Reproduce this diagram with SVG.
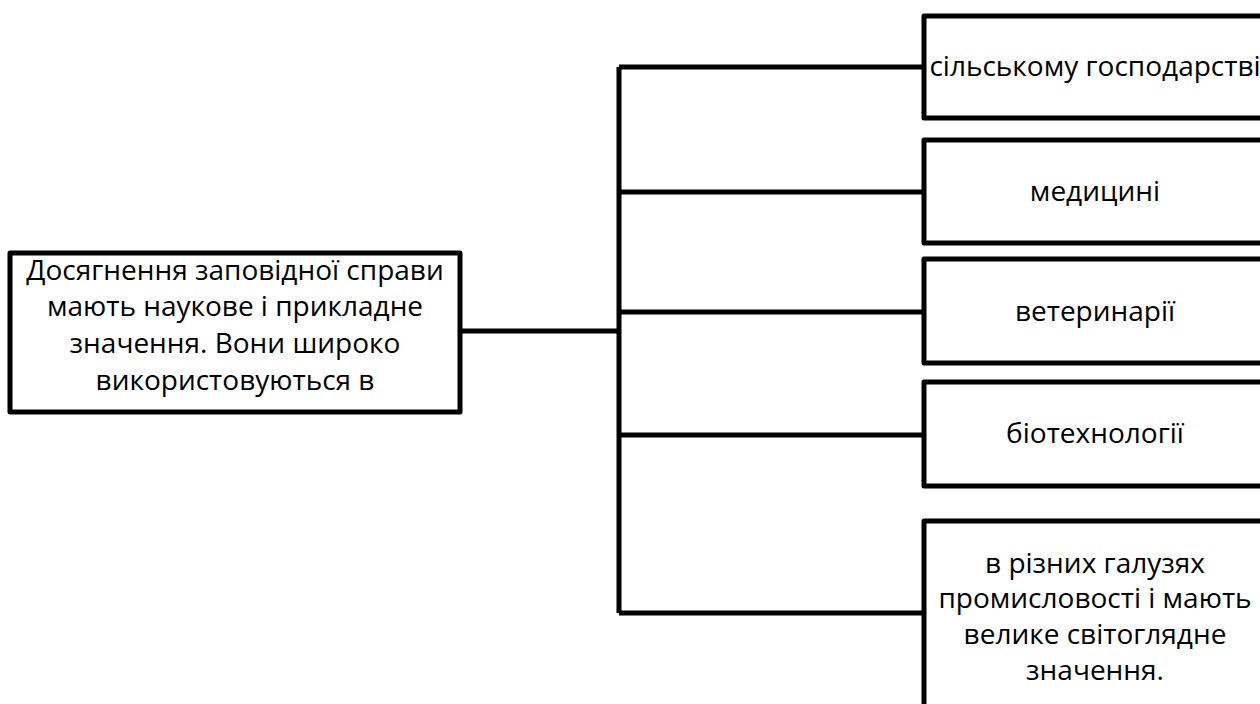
<svg xmlns="http://www.w3.org/2000/svg" width="1260" height="704" viewBox="0 0 1260 704">
<style>
.box{fill:#fff;stroke:#000;stroke-width:5;stroke-linejoin:round}
.ln{fill:none;stroke:#000;stroke-width:5;stroke-linejoin:round}
text{font-family:"Open Sans","Noto Sans","DejaVu Sans",sans-serif;font-size:28px;fill:#000;text-anchor:middle}
</style>
<rect width="1260" height="704" fill="#fff"/>
<g id="connectors">
<path class="ln" d="M460 331 H619"/>
<path class="ln" d="M619 67 V613"/>
<path class="ln" d="M619 67 H924"/>
<path class="ln" d="M619 192 H924"/>
<path class="ln" d="M619 312 H924"/>
<path class="ln" d="M619 435 H924"/>
<path class="ln" d="M619 613 H924"/>
</g>
<g id="main">
<rect class="box" x="10" y="253" width="450" height="159"/>
<text x="235" y="280">Досягнення заповідної справи</text>
<text x="235" y="316">мають наукове і прикладне</text>
<text x="235" y="353">значення. Вони широко</text>
<text x="235" y="390">використовуються в</text>
</g>
<g id="n1">
<rect class="box" x="924" y="16" width="345" height="102"/>
<text x="1095" y="76">сільському господарстві</text>
</g>
<g id="n2">
<rect class="box" x="924" y="140" width="345" height="103"/>
<text x="1095" y="201">медицині</text>
</g>
<g id="n3">
<rect class="box" x="924" y="259" width="345" height="104"/>
<text x="1095" y="321">ветеринарії</text>
</g>
<g id="n4">
<rect class="box" x="924" y="382" width="345" height="104"/>
<text x="1095" y="443">біотехнології</text>
</g>
<g id="n5">
<rect class="box" x="924" y="521" width="345" height="200"/>
<text x="1095" y="573">в різних галузях</text>
<text x="1095" y="608">промисловості і мають</text>
<text x="1095" y="644">велике світоглядне</text>
<text x="1095" y="680">значення.</text>
</g>
</svg>
